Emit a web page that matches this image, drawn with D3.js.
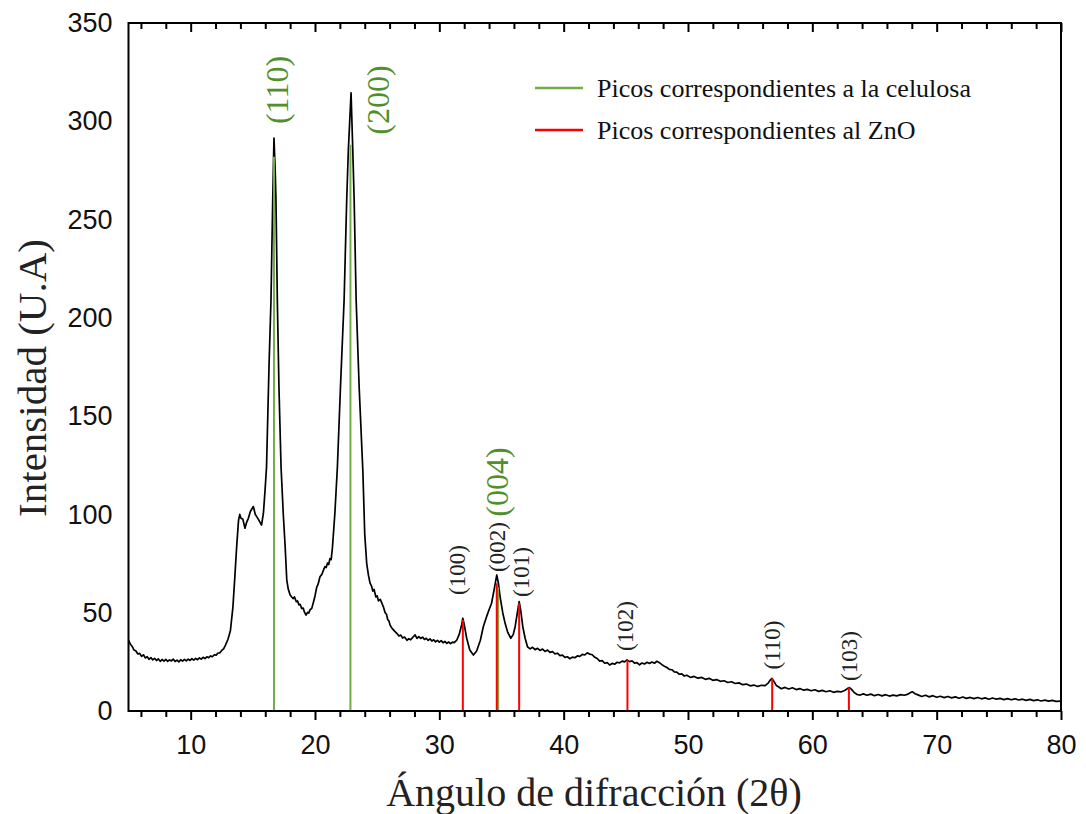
<!DOCTYPE html>
<html><head><meta charset="utf-8">
<script src="https://cdn.jsdelivr.net/npm/d3@7"></script>
<style>body{margin:0;background:#fff}svg{display:block}</style>
</head><body>
<svg id="c" width="1086" height="814"></svg>
<script>
// ---- data: XRD spectrum [2θ, intensity] ----
const spectrum = [
[5.0,36],[5.15,34],[5.3,32.8],[5.45,31],[5.6,30.5],[5.75,29],[5.9,29.3],[6.05,27.8],[6.2,28.6],[6.35,27],
[6.5,27.6],[6.65,26.3],[6.8,27.2],[6.95,26],[7.1,26.8],[7.25,25.7],[7.4,26.5],[7.55,25.3],[7.7,26.2],[7.85,25.4],
[8.0,26.3],[8.15,25.2],[8.3,26],[8.45,25.5],[8.6,26.4],[8.75,25.2],[8.9,25.9],[9.05,25],[9.2,26.1],[9.35,25.4],
[9.5,26.3],[9.65,25.5],[9.8,26.4],[9.95,25.7],[10.1,26.6],[10.25,25.9],[10.4,26.8],[10.55,26.1],[10.7,27],[10.85,26.4],
[11.0,27.3],[11.15,26.7],[11.3,27.6],[11.45,27.1],[11.6,28],[11.75,27.6],[11.9,28.6],[12.05,28.4],[12.2,29.5],[12.35,29.6],
[12.5,30.8],[12.65,31.6],[12.8,33.5],[13.0,36.5],[13.2,41],[13.4,53],[13.55,68],[13.7,83.6],[13.85,97],[13.95,100],
[14.05,98],[14.2,97.5],[14.37,93],[14.5,96],[14.64,98],[14.8,101.5],[15.04,104],[15.2,100],[15.3,99],[15.45,97.5],
[15.58,96],[15.7,94.6],[15.85,100.6],[15.98,112],[16.1,124],[16.3,175],[16.46,209],[16.6,260],[16.7,291.5],[16.8,275],
[16.86,260],[16.97,209],[17.1,165],[17.27,124],[17.45,100],[17.6,83.6],[17.73,66.6],[17.85,62],[18.0,59],[18.13,58],
[18.25,57.2],[18.35,58],[18.5,55.6],[18.6,56],[18.7,54],[18.8,54.3],[18.93,52.2],[19.05,52.4],[19.15,50.3],[19.28,48.8],
[19.4,50.2],[19.5,49.8],[19.6,51.5],[19.74,52.2],[19.9,56],[20.0,58.5],[20.14,63],[20.25,64.5],[20.4,68.3],[20.55,69.5],
[20.7,72],[20.8,73.4],[20.9,73],[21.0,75.2],[21.1,74.5],[21.2,77.5],[21.3,77],[21.4,83],[21.6,100.7],[21.8,124],
[22.05,165],[22.34,209],[22.55,260],[22.68,285],[22.9,314.5],[23.04,285],[23.15,260],[23.31,209],[23.55,165],[23.85,122],
[24.0,90],[24.16,75],[24.3,69],[24.43,65],[24.55,63.5],[24.65,61],[24.75,61.8],[24.9,58],[25.0,58.6],[25.1,56],
[25.25,56.8],[25.37,55],[25.5,53],[25.64,50],[25.75,49.2],[25.85,46.5],[25.95,45.8],[26.04,43.7],[26.2,42],[26.4,40.6],
[26.58,39.5],[26.75,38.1],[26.9,38.6],[27.05,37.1],[27.2,37.6],[27.4,36],[27.55,36.8],[27.7,36.2],[27.85,37.4],[28.05,38.7],
[28.2,36.9],[28.35,37.8],[28.5,36.9],[28.65,37.6],[28.8,36.4],[28.95,37],[29.1,35.9],[29.25,36.7],[29.4,35.6],[29.55,36.2],
[29.7,35.2],[29.85,35.9],[30.0,35],[30.15,35.8],[30.3,34.7],[30.45,35.4],[30.6,34.4],[30.75,35.1],[30.9,34.3],[31.05,35],
[31.2,34.8],[31.4,36],[31.6,39],[31.8,44],[31.89,47.2],[32.0,44],[32.2,37],[32.45,31],[32.74,28.5],[33.0,30.5],
[33.3,36],[33.54,43],[33.8,48],[34.0,51.5],[34.2,54.8],[34.4,61.5],[34.62,69.2],[34.75,65],[34.89,58],[35.1,50],
[35.29,44.6],[35.5,40],[35.75,37],[35.95,39],[36.1,43],[36.3,51],[36.42,55.6],[36.55,51],[36.71,43],[36.9,37],
[37.09,32.7],[37.3,31.6],[37.5,32.4],[37.7,31.2],[37.9,31.9],[38.1,30.8],[38.3,31.5],[38.5,30.3],[38.7,31],[38.9,29.8],
[39.1,30.2],[39.3,29.1],[39.5,29.4],[39.7,28.2],[39.9,28.4],[40.1,27.3],[40.3,27.6],[40.5,26.6],[40.7,27.4],[40.9,27.1],
[41.1,28],[41.3,27.8],[41.5,28.8],[41.7,28.5],[41.9,29.6],[42.1,28.9],[42.3,28.6],[42.5,27.3],[42.7,26.7],[42.9,25.4],
[43.1,25.6],[43.3,24.3],[43.5,24.6],[43.7,23.4],[43.9,24.2],[44.1,23.8],[44.3,24.8],[44.5,24.5],[44.7,25.4],[44.9,25],
[45.1,26],[45.3,25.1],[45.5,25.5],[45.7,24.3],[45.9,24.6],[46.1,23.5],[46.3,24.4],[46.5,23.9],[46.7,24.8],[46.9,24.2],
[47.1,24.9],[47.3,24.3],[47.5,25.3],[47.7,24.6],[47.9,23.6],[48.1,22.8],[48.3,22.1],[48.5,21.2],[48.7,21],[48.9,19.9],
[49.1,19.8],[49.3,18.7],[49.5,18.9],[49.7,17.8],[49.9,18.2],[50.2,17.1],[50.5,17.6],[50.8,16.7],[51.1,17.1],[51.4,16.1],
[51.7,16.6],[52.0,15.6],[52.3,16],[52.6,15.1],[52.9,15.4],[53.2,14.5],[53.5,14.9],[53.8,14],[54.1,14.3],[54.4,13.4],
[54.7,13.7],[55.0,12.8],[55.3,13.2],[55.6,12.5],[55.9,13.1],[56.2,12.9],[56.45,14.2],[56.65,16],[56.75,16.6],[56.9,15.2],
[57.1,13],[57.3,12.2],[57.5,11.3],[57.8,12],[58.1,11.2],[58.4,11.8],[58.7,10.9],[59.0,11.4],[59.3,10.6],[59.6,11],
[59.9,10.3],[60.2,10.8],[60.5,10],[60.8,10.5],[61.1,9.8],[61.4,10.3],[61.7,9.5],[62.0,10],[62.3,9.7],[62.6,10.4],
[62.85,11.5],[62.99,11.9],[63.15,11],[63.35,9.5],[63.6,8.4],[63.85,8.1],[64.1,8.7],[64.4,8],[64.7,8.6],[65.0,7.8],
[65.3,8.4],[65.6,7.7],[65.9,8.3],[66.2,7.6],[66.5,8.1],[66.8,7.7],[67.1,8.3],[67.4,8],[67.7,8.6],[67.9,9.4],
[68.05,9.8],[68.25,8.8],[68.5,8.2],[68.8,7.4],[69.1,8],[69.4,7.2],[69.7,7.8],[70.0,7],[70.3,7.5],[70.6,6.8],
[70.9,7.4],[71.2,6.7],[71.5,7.2],[71.8,6.5],[72.1,7.1],[72.4,6.4],[72.7,6.9],[73.0,6.3],[73.3,6.9],[73.6,6.2],
[73.9,6.7],[74.2,6],[74.5,6.6],[74.8,6],[75.1,6.4],[75.4,5.8],[75.7,6.3],[76.0,5.7],[76.3,6.2],[76.6,5.6],
[76.9,6],[77.2,5.4],[77.5,5.9],[77.8,5.3],[78.1,5.7],[78.4,5.1],[78.7,5.5],[79.0,5],[79.3,5.4],[79.6,4.9],[80.0,5]
];

const celluloseAngles = [16.7, 22.85, 34.73];
const celluloseTops = [282, 288, 63];
const celluloseLabels = ["(110)", "(200)", "(004)"];
const znoAngles = [31.89, 34.62, 36.42, 45.13, 56.77, 62.94];
const znoTops = [46.3, 65, 54.8, 25.9, 16.6, 12];
const znoLabels = ["(100)", "(002)", "(101)", "(102)", "(110)", "(103)"];
const yTicks = [0, 50, 100, 150, 200, 250, 300, 350];
const xMajor = [10, 20, 30, 40, 50, 60, 70, 80];
const legendLabels = ["Picos correspondientes a la celulosa", "Picos correspondientes al ZnO"];

(function draw() {
const L = 128.5, R = 1061, T = 23, B = 711;
const x = d3.scaleLinear().domain([5, 80]).range([L, R]);
const y = d3.scaleLinear().domain([0, 350]).range([B, T]);
const svg = d3.select("#c");
const GREEN = "#70ad47", GREEN_TXT = "#4f8f2c", RED = "#ff0000";
const SERIF = "'Liberation Serif','Times New Roman',serif";
const SANS = "'Liberation Sans',Arial,sans-serif";

// curve
svg.append("path").datum(spectrum)
  .attr("d", d3.line().x(d => x(d[0])).y(d => y(d[1])))
  .attr("fill", "none").attr("stroke", "#000").attr("stroke-width", 1.7)
  .attr("stroke-linejoin", "round");

// reference lines
svg.selectAll("line.cel").data(celluloseAngles).join("line").attr("class", "cel")
  .attr("x1", d => x(d)).attr("x2", d => x(d))
  .attr("y1", y(0)).attr("y2", (d, i) => y(celluloseTops[i]))
  .attr("stroke", GREEN).attr("stroke-width", 2);
svg.selectAll("line.zno").data(znoAngles).join("line").attr("class", "zno")
  .attr("x1", d => x(d)).attr("x2", d => x(d))
  .attr("y1", y(0)).attr("y2", (d, i) => y(znoTops[i]))
  .attr("stroke", RED).attr("stroke-width", 2);

// peak labels
const celPos = [[277, 90], [378, 100], [497, 482]];
celluloseLabels.forEach((t, i) => {
  svg.append("text").attr("transform", `translate(${celPos[i][0]},${celPos[i][1]}) rotate(-90)`)
    .attr("text-anchor", "middle").attr("dominant-baseline", "central")
    .attr("font-family", SERIF).attr("font-size", 32).attr("fill", GREEN_TXT).text(t);
});
const znoPos = [[457, 570], [497, 547], [521, 572], [625, 626], [772, 645], [849, 656]];
znoLabels.forEach((t, i) => {
  svg.append("text").attr("transform", `translate(${znoPos[i][0]},${znoPos[i][1]}) rotate(-90)`)
    .attr("text-anchor", "middle").attr("dominant-baseline", "central")
    .attr("font-family", SERIF).attr("font-size", 23).attr("fill", "#222").text(t);
});

// frame
svg.append("rect").attr("x", L).attr("y", T).attr("width", R - L).attr("height", B - T)
  .attr("fill", "none").attr("stroke", "#000").attr("stroke-width", 2);

// x ticks
const minor = d3.range(6, 80, 2).filter(v => v % 10 !== 0);
const gBottom = svg.append("g").attr("transform", `translate(0,${B})`)
  .call(d3.axisBottom(x).tickValues(xMajor).tickSize(9).tickPadding(15).tickFormat(d3.format("d")));
gBottom.select(".domain").remove();
gBottom.selectAll("line").attr("stroke-width", 2);
gBottom.selectAll("text").attr("font-family", SANS).attr("font-size", 27).attr("fill", "#111");
const gBMinor = svg.append("g").attr("transform", `translate(0,${B})`)
  .call(d3.axisBottom(x).tickValues(minor).tickSize(6).tickFormat(""));
gBMinor.select(".domain").remove();
gBMinor.selectAll("line").attr("stroke-width", 2);
const gTop = svg.append("g").attr("transform", `translate(0,${T})`)
  .call(d3.axisTop(x).tickValues(xMajor).tickSize(-9).tickFormat(""));
gTop.select(".domain").remove();
gTop.selectAll("line").attr("stroke-width", 2);
const gTMinor = svg.append("g").attr("transform", `translate(0,${T})`)
  .call(d3.axisTop(x).tickValues(minor).tickSize(-6).tickFormat(""));
gTMinor.select(".domain").remove();
gTMinor.selectAll("line").attr("stroke-width", 2);

// y tick labels
const gLeft = svg.append("g").attr("transform", `translate(${L},0)`)
  .call(d3.axisLeft(y).tickValues(yTicks).tickSize(0).tickPadding(16).tickFormat(d3.format("d")));
gLeft.select(".domain").remove();
gLeft.selectAll("text").attr("font-family", SANS).attr("font-size", 27).attr("fill", "#111");

// axis titles
svg.append("text").attr("x", 594).attr("y", 806).attr("text-anchor", "middle")
  .attr("font-family", SERIF).attr("font-size", 40).attr("fill", "#222")
  .text("Ángulo de difracción (2θ)");
svg.append("text").attr("transform", "translate(46,378) rotate(-90)").attr("text-anchor", "middle")
  .attr("font-family", SERIF).attr("font-size", 41).attr("fill", "#222")
  .text("Intensidad (U.A)");

// legend
const legColors = [GREEN, RED];
legendLabels.forEach((t, i) => {
  const yy = 88 + i * 42;
  svg.append("line").attr("x1", 535).attr("x2", 583).attr("y1", yy).attr("y2", yy)
    .attr("stroke", legColors[i]).attr("stroke-width", 2.5);
  svg.append("text").attr("x", 597).attr("y", yy).attr("dominant-baseline", "central")
    .attr("font-family", SERIF).attr("font-size", 26).attr("fill", "#111").text(t);
});
})();
</script>
</body></html>
